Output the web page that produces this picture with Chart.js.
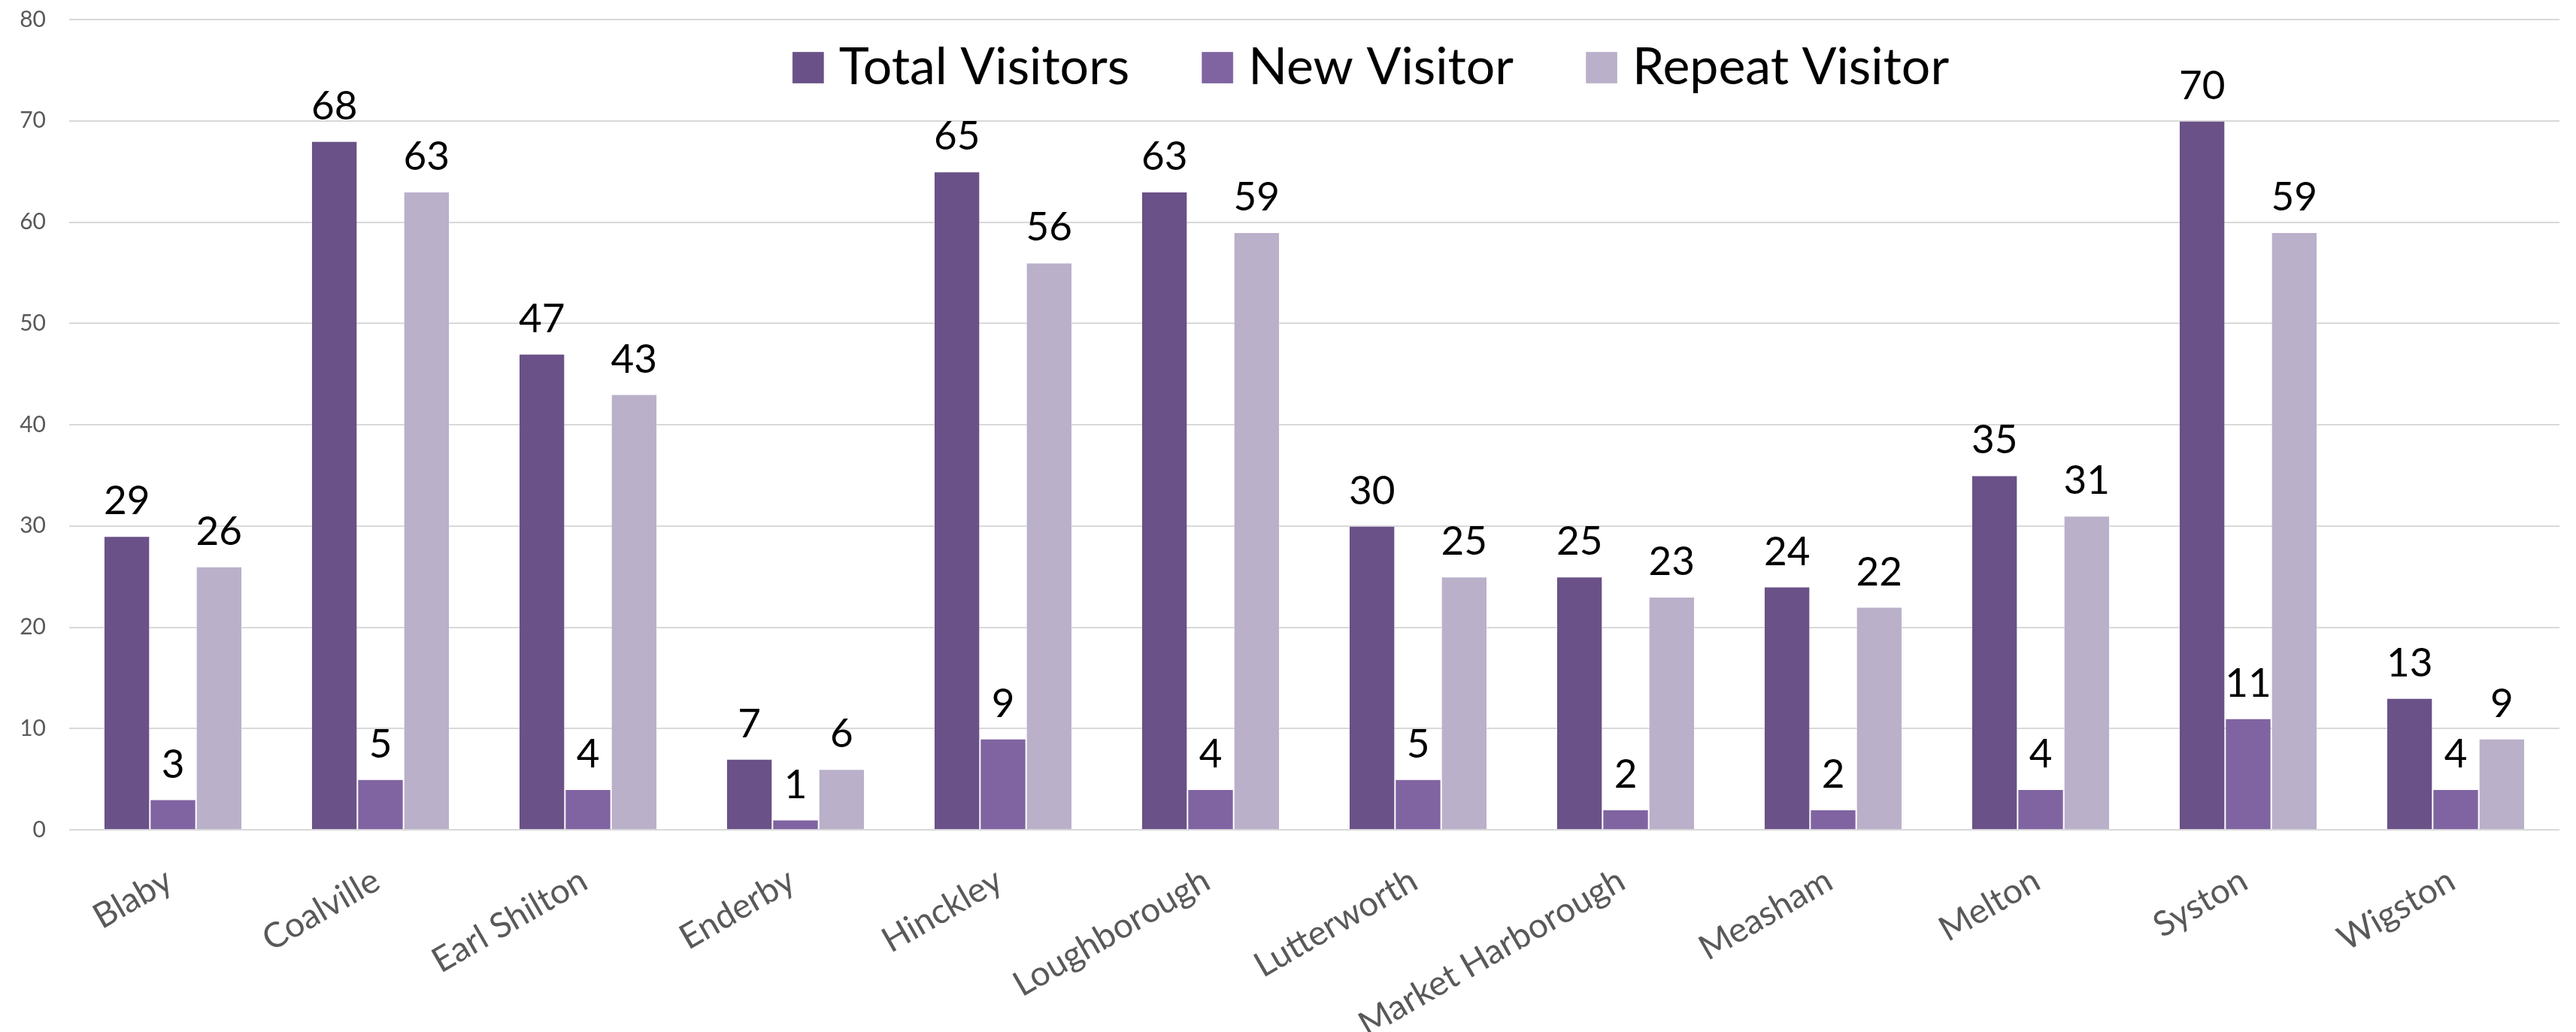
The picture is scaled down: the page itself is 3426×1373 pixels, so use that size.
<!DOCTYPE html>
<html>
<head>
<meta charset="utf-8">
<title>Visitors by town</title>
<script src="https://cdn.jsdelivr.net/npm/chart.js@4.4.1/dist/chart.umd.min.js"></script>
<style>
  html, body { margin: 0; padding: 0; background: #fff; }
  #wrap { width: 3426px; height: 1373px; position: relative; }
</style>
</head>
<body>
<div id="wrap"><canvas id="visitChart"></canvas></div>
<script>
// data
var towns = ['Blaby', 'Coalville', 'Earl Shilton', 'Enderby', 'Hinckley', 'Loughborough',
  'Lutterworth', 'Market Harborough', 'Measham', 'Melton', 'Syston', 'Wigston'];
var totalVisitors = [29, 68, 47, 7, 65, 63, 30, 25, 24, 35, 70, 13];
var newVisitor = [3, 5, 4, 1, 9, 4, 5, 2, 2, 4, 11, 4];
var repeatVisitor = [26, 63, 43, 6, 56, 59, 25, 23, 22, 31, 59, 9];
var yTicks = [0, 10, 20, 30, 40, 50, 60, 70, 80];

Chart.defaults.font.family = 'Lato, "Open Sans", sans-serif';

// value labels above each bar
var barLabels = {
  id: 'barLabels',
  afterDatasetsDraw: function(chart) {
    var ctx = chart.ctx;
    ctx.save();
    ctx.font = '53px Lato';
    ctx.fillStyle = '#000';
    ctx.textAlign = 'center';
    ctx.textBaseline = 'alphabetic';
    chart.data.datasets.forEach(function(ds, i) {
      chart.getDatasetMeta(i).data.forEach(function(bar, j) {
        ctx.fillText(ds.data[j], bar.x, bar.y - 29);
      });
    });
    ctx.restore();
  }
};

// legend sits over the top of the plot, like the original
var legendMove = {
  id: 'legendMove',
  beforeDraw: function(chart) {
    var lg = chart.legend;
    lg.left = 1830 - 1700;
    lg.right = 1830 + 1700;
    lg.top = -54;
    lg.bottom = 200;
  }
};

var ctx = document.getElementById('visitChart');
var visitChart = new Chart(ctx, {
  type: 'bar',
  data: {
    labels: towns,
    datasets: [
      { label: 'Total Visitors', data: totalVisitors, backgroundColor: '#6A5187', borderColor: 'rgba(255,255,255,0.3)', borderWidth: 1 },
      { label: 'New Visitor', data: newVisitor, backgroundColor: '#8064A2', borderColor: 'rgba(255,255,255,0.3)', borderWidth: 1 },
      { label: 'Repeat Visitor', data: repeatVisitor, backgroundColor: '#BAB0CA', borderColor: 'rgba(255,255,255,0.3)', borderWidth: 1 }
    ]
  },
  options: {
    responsive: true,
    maintainAspectRatio: false,
    animation: false,
    layout: { padding: { top: 25, right: 22, left: 0, bottom: 0 } },
    datasets: { bar: { categoryPercentage: 0.667, barPercentage: 1.0 } },
    plugins: {
      tooltip: { enabled: false },
      legend: {
        position: 'top',
        maxHeight: 1,
        labels: {
          usePointStyle: true,
          pointStyle: 'rect',
          boxWidth: 14,
          boxHeight: 42,
          padding: 110,
          color: '#000',
          font: { size: 68 }
        }
      }
    },
    scales: {
      x: {
        grid: { display: false, drawTicks: false },
        border: { display: false },
        ticks: {
          autoSkip: false,
          maxRotation: 30,
          minRotation: 30,
          labelOffset: -5,
          padding: 40,
          color: '#595959',
          font: { size: 46 }
        },
        afterFit: function(scale) { scale.height = 269; }
      },
      y: {
        min: 0,
        max: 80,
        afterBuildTicks: function(scale) {
          scale.ticks = yTicks.map(function(v) { return { value: v }; });
        },
        grid: { color: '#D9D9D9', lineWidth: 2, drawTicks: false },
        border: { display: false },
        ticks: { padding: 31, color: '#595959', font: { size: 30 } },
        afterFit: function(scale) {
          scale.width = 92;
          scale.paddingTop = 0;
        }
      }
    }
  },
  plugins: [barLabels, legendMove]
});
</script>
</body>
</html>
